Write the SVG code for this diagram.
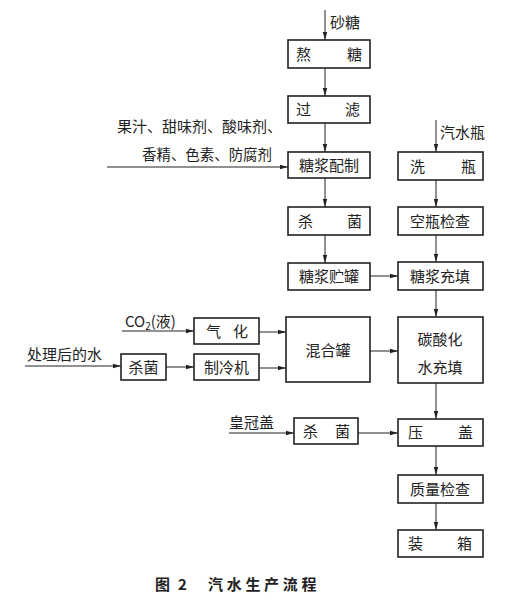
<svg xmlns="http://www.w3.org/2000/svg" width="509" height="600" viewBox="0 0 509 600">
<style>
.box{fill:#fff;stroke:#222;stroke-width:1.6}
.ln{fill:none;stroke:#222;stroke-width:1;marker-end:url(#ah)}
.t{font-family:"Noto Sans CJK SC",sans-serif;font-size:15px;fill:#222}
.c{text-anchor:middle}
.cap{font-family:"Noto Sans CJK SC",sans-serif;font-size:15px;font-weight:bold;fill:#222}
</style>
<defs>
<marker id="ah" viewBox="0 0 8 6" refX="8" refY="3" markerWidth="8" markerHeight="6" markerUnits="userSpaceOnUse" orient="auto">
<path d="M0,0.8 L8,3 L0,5.2 z" fill="#222"/>
</marker>
</defs>
<rect width="509" height="600" fill="#fff"/>
<g id="connectors">
<line class="ln" x1="325" y1="10" x2="325" y2="40"/>
<line class="ln" x1="325" y1="68" x2="325" y2="96"/>
<line class="ln" x1="325" y1="123" x2="325" y2="152"/>
<line class="ln" x1="107" y1="167" x2="288" y2="167"/>
<line class="ln" x1="325" y1="178" x2="325" y2="207"/>
<line class="ln" x1="325" y1="235" x2="325" y2="263"/>
<line class="ln" x1="370" y1="276" x2="398" y2="276"/>
<line class="ln" x1="436" y1="120" x2="436" y2="152"/>
<line class="ln" x1="436" y1="180" x2="436" y2="207"/>
<line class="ln" x1="436" y1="235" x2="436" y2="262"/>
<line class="ln" x1="436" y1="290" x2="436" y2="317"/>
<line class="ln" x1="122" y1="331" x2="194" y2="331"/>
<line class="ln" x1="25" y1="366" x2="121" y2="366"/>
<line class="ln" x1="166" y1="367" x2="194" y2="367"/>
<line class="ln" x1="259" y1="332" x2="286" y2="332"/>
<line class="ln" x1="259" y1="368" x2="286" y2="368"/>
<line class="ln" x1="370" y1="351" x2="398" y2="351"/>
<line class="ln" x1="436" y1="383" x2="436" y2="419"/>
<line class="ln" x1="229" y1="433" x2="294" y2="433"/>
<line class="ln" x1="358" y1="433" x2="398" y2="433"/>
<line class="ln" x1="436" y1="446" x2="436" y2="475"/>
<line class="ln" x1="436" y1="503" x2="436" y2="530"/>
</g>
<g id="labels">
<text class="t" x="330" y="28">砂糖</text>
<text class="t" x="117" y="132">果汁、甜味剂、酸味剂、</text>
<text class="t" x="142" y="160" textLength="130" lengthAdjust="spacingAndGlyphs">香精、色素、防腐剂</text>
<text class="t" x="440" y="138">汽水瓶</text>
<text class="t" x="125" y="327">CO<tspan font-size="10" dy="3">2</tspan><tspan dy="-3">(液)</tspan></text>
<text class="t" x="27" y="360">处理后的水</text>
<text class="t" x="229" y="428">皇冠盖</text>
</g>
<g id="n-aotang"><rect class="box" x="288" y="40" width="82" height="28"/><text class="t" x="296" y="59.5">熬</text><text class="t" x="347" y="59.5">糖</text></g>
<g id="n-guolv"><rect class="box" x="288" y="96" width="82" height="27"/><text class="t" x="296" y="115">过</text><text class="t" x="345" y="115">滤</text></g>
<g id="n-peizhi"><rect class="box" x="288" y="152" width="82" height="26"/><text class="t c" x="329" y="170.5">糖浆配制</text></g>
<g id="n-shajun1"><rect class="box" x="288" y="207" width="82" height="28"/><text class="t" x="298" y="226.5">杀</text><text class="t" x="347" y="226.5">菌</text></g>
<g id="n-zhuguan"><rect class="box" x="288" y="263" width="82" height="27"/><text class="t c" x="329" y="282">糖浆贮罐</text></g>
<g id="n-xiping"><rect class="box" x="398" y="152" width="85" height="28"/><text class="t" x="410" y="171.5">洗</text><text class="t" x="461" y="171.5">瓶</text></g>
<g id="n-kongping"><rect class="box" x="398" y="207" width="85" height="28"/><text class="t c" x="440" y="226.5">空瓶检查</text></g>
<g id="n-chongtian"><rect class="box" x="398" y="262" width="85" height="28"/><text class="t c" x="440" y="281.5">糖浆充填</text></g>
<g id="n-qihua"><rect class="box" x="194" y="318" width="65" height="26"/><text class="t" x="206" y="336.5">气</text><text class="t" x="233" y="336.5">化</text></g>
<g id="n-shajun2"><rect class="box" x="121" y="354" width="45" height="26"/><text class="t c" x="143.5" y="372.5">杀菌</text></g>
<g id="n-zhilengji"><rect class="box" x="194" y="354" width="65" height="26"/><text class="t c" x="226.5" y="372.5">制冷机</text></g>
<g id="n-hunhe"><rect class="box" x="286" y="317" width="84" height="65"/><text class="t c" x="328" y="355.5">混合罐</text></g>
<g id="n-tansuanhua"><rect class="box" x="398" y="317" width="85" height="66"/><text class="t c" x="440" y="344.5">碳酸化</text><text class="t c" x="440" y="372.5">水充填</text></g>
<g id="n-shajun3"><rect class="box" x="294" y="418" width="64" height="26"/><text class="t" x="303" y="436.5">杀</text><text class="t" x="335" y="436.5">菌</text></g>
<g id="n-yagai"><rect class="box" x="398" y="419" width="85" height="27"/><text class="t" x="408" y="438">压</text><text class="t" x="458" y="438">盖</text></g>
<g id="n-zhiliang"><rect class="box" x="398" y="475" width="85" height="28"/><text class="t c" x="440" y="494.5">质量检查</text></g>
<g id="n-zhuangxiang"><rect class="box" x="398" y="530" width="85" height="27"/><text class="t" x="408" y="549">装</text><text class="t" x="457" y="549">箱</text></g>
<g id="caption">
<text class="cap" x="155" y="590">图</text>
<text class="cap" x="178" y="590">2</text>
<text class="cap" x="208" y="590" letter-spacing="3.7">汽水生产流程</text>
</g>
</svg>
